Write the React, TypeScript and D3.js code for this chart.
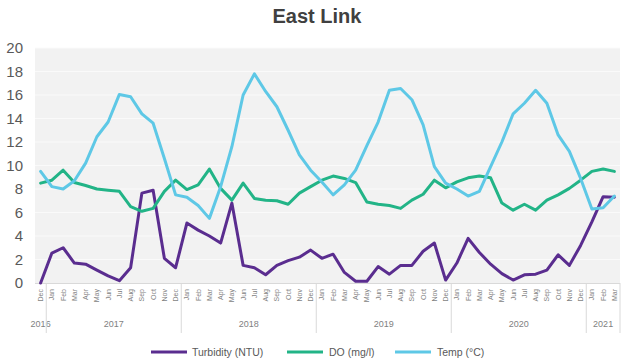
import React from "react";
import * as d3 from "d3";

const months = ["Dec","Jan","Feb","Mar","Apr","May","Jun","Jul","Aug","Sep","Oct","Nov"];
const years = ["2016", "2017", "2018", "2019", "2020", "2021"];
const monthsPerYear = [1, 12, 12, 12, 12, 3];

const turbidity = [0, 2.55, 3.0, 1.7, 1.6, 1.1, 0.6, 0.2, 1.3, 7.65, 7.9, 2.1, 1.3,
  5.1, 4.5, 4.0, 3.4, 6.8, 1.5, 1.3, 0.7, 1.5, 1.9, 2.2, 2.8,
  2.1, 2.45, 0.9, 0.15, 0.15, 1.4, 0.75, 1.5, 1.5, 2.7, 3.4, 0.25,
  1.7, 3.8, 2.6, 1.6, 0.8, 0.25, 0.7, 0.75, 1.1, 2.4, 1.5, 3.2,
  5.2, 7.35, 7.3];
const dissolvedOxygen = [8.5, 8.75, 9.6, 8.55, 8.3, 8.0, 7.9, 7.8, 6.5, 6.1, 6.35, 7.8, 8.75,
  7.95, 8.35, 9.7, 8.05, 7.05, 8.5, 7.2, 7.05, 7.0, 6.7, 7.65, 8.2,
  8.75, 9.1, 8.9, 8.55, 6.9, 6.7, 6.6, 6.35, 7.05, 7.55, 8.75, 8.1,
  8.6, 8.95, 9.1, 8.95, 6.8, 6.2, 6.7, 6.2, 7.05, 7.5, 8.05, 8.75,
  9.5, 9.7, 9.5];
const temperature = [9.5, 8.2, 8.0, 8.7, 10.2, 12.45, 13.7, 16.05, 15.85, 14.4, 13.6, 10.6, 7.5,
  7.3, 6.6, 5.5, 8.2, 11.6, 16.0, 17.8, 16.3, 15.0, 13.0, 10.9, 9.6,
  8.6, 7.5, 8.35, 9.6, 11.7, 13.7, 16.4, 16.55, 15.6, 13.45, 9.9, 8.5,
  8.0, 7.4, 7.8, 9.9, 12.0, 14.4, 15.3, 16.4, 15.3, 12.6, 11.2, 8.9,
  6.3, 6.4, 7.4];
const yTicks = [0, 2, 4, 6, 8, 10, 12, 14, 16, 18, 20];

const seriesList = [
  { name: "Turbidity (NTU)", values: turbidity, color: "#5a2d8f" },
  { name: "DO (mg/l)", values: dissolvedOxygen, color: "#22b487" },
  { name: "Temp (°C)", values: temperature, color: "#5ec8e6" },
];

const W = 632, H = 364;
const left = 35, right = 620, top = 48, bottom = 283;
const font = "'Liberation Sans', Arial, sans-serif";

export default function App() {
  const idx = d3.range(turbidity.length);
  const monthLabels = idx.map((i) => months[i % 12]);
  const x = d3.scaleBand<number>().domain(idx).range([left, right]).padding(0);
  const cx = (i: number) => (x(i) as number) + x.bandwidth() / 2;
  const y = d3.scaleLinear().domain([0, 20]).range([bottom, top]);
  const line = (vals: number[]) =>
    d3.line<number>().x((_, i) => cx(i)).y((v) => y(v))(vals) as string;

  let start = 0;
  const groups = years.map((yr, k) => {
    const s = start;
    start += monthsPerYear[k];
    return { yr, s, e: start };
  });
  const bw = x.bandwidth();

  const legendItems = [
    { x0: 151, tx: 192 },
    { x0: 287, tx: 329 },
    { x0: 395, tx: 437 },
  ];

  return (
    <svg width={W} height={H} style={{ position: "absolute", left: 0, top: 0, background: "#fff" }}
      fontFamily={font}>
      <text x={317} y={23} textAnchor="middle" fontSize={20} fontWeight="bold" fill="#404040">East Link</text>
      <rect x={left} y={top} width={right - left} height={bottom - top} fill="#f2f2f2" />
      {yTicks.map((t) => (
        <g key={t}>
          {t > 0 && <line x1={left} x2={right} y1={y(t)} y2={y(t)} stroke="#fafafa" strokeWidth={1} />}
          <text x={23} y={y(t)} dy="0.35em" textAnchor="end" fontSize={15} fill="#595959">{t}</text>
        </g>
      ))}
      <line x1={left} x2={right} y1={bottom + 0.5} y2={bottom + 0.5} stroke="#d9d9d9" />
      {idx.map((i) => (
        <text key={i} transform={`translate(${cx(i) + 2.5},${bottom + 6}) rotate(-90)`} textAnchor="end"
          fontSize={7} fill="#7f7f7f">{monthLabels[i]}</text>
      ))}
      {groups.map((g) => (
        <g key={g.yr}>
          {g.s > 0 && <line x1={left + g.s * bw} x2={left + g.s * bw} y1={bottom} y2={333} stroke="#d9d9d9" />}
          <text x={left + ((g.s + g.e) / 2) * bw} y={327} textAnchor="middle" fontSize={9} fill="#7f7f7f">{g.yr}</text>
        </g>
      ))}
      <line x1={right} x2={right} y1={bottom} y2={333} stroke="#d9d9d9" />
      {seriesList.map((s) => (
        <path key={s.name} d={line(s.values)} fill="none" stroke={s.color} strokeWidth={3}
          strokeLinejoin="round" strokeLinecap="round" />
      ))}
      {seriesList.map((s, k) => (
        <g key={s.name}>
          <line x1={legendItems[k].x0} x2={legendItems[k].x0 + 36} y1={352} y2={352} stroke={s.color} strokeWidth={3} />
          <text x={legendItems[k].tx} y={352} dy="0.35em" fontSize={10.5} fill="#595959">{s.name}</text>
        </g>
      ))}
    </svg>
  );
}
